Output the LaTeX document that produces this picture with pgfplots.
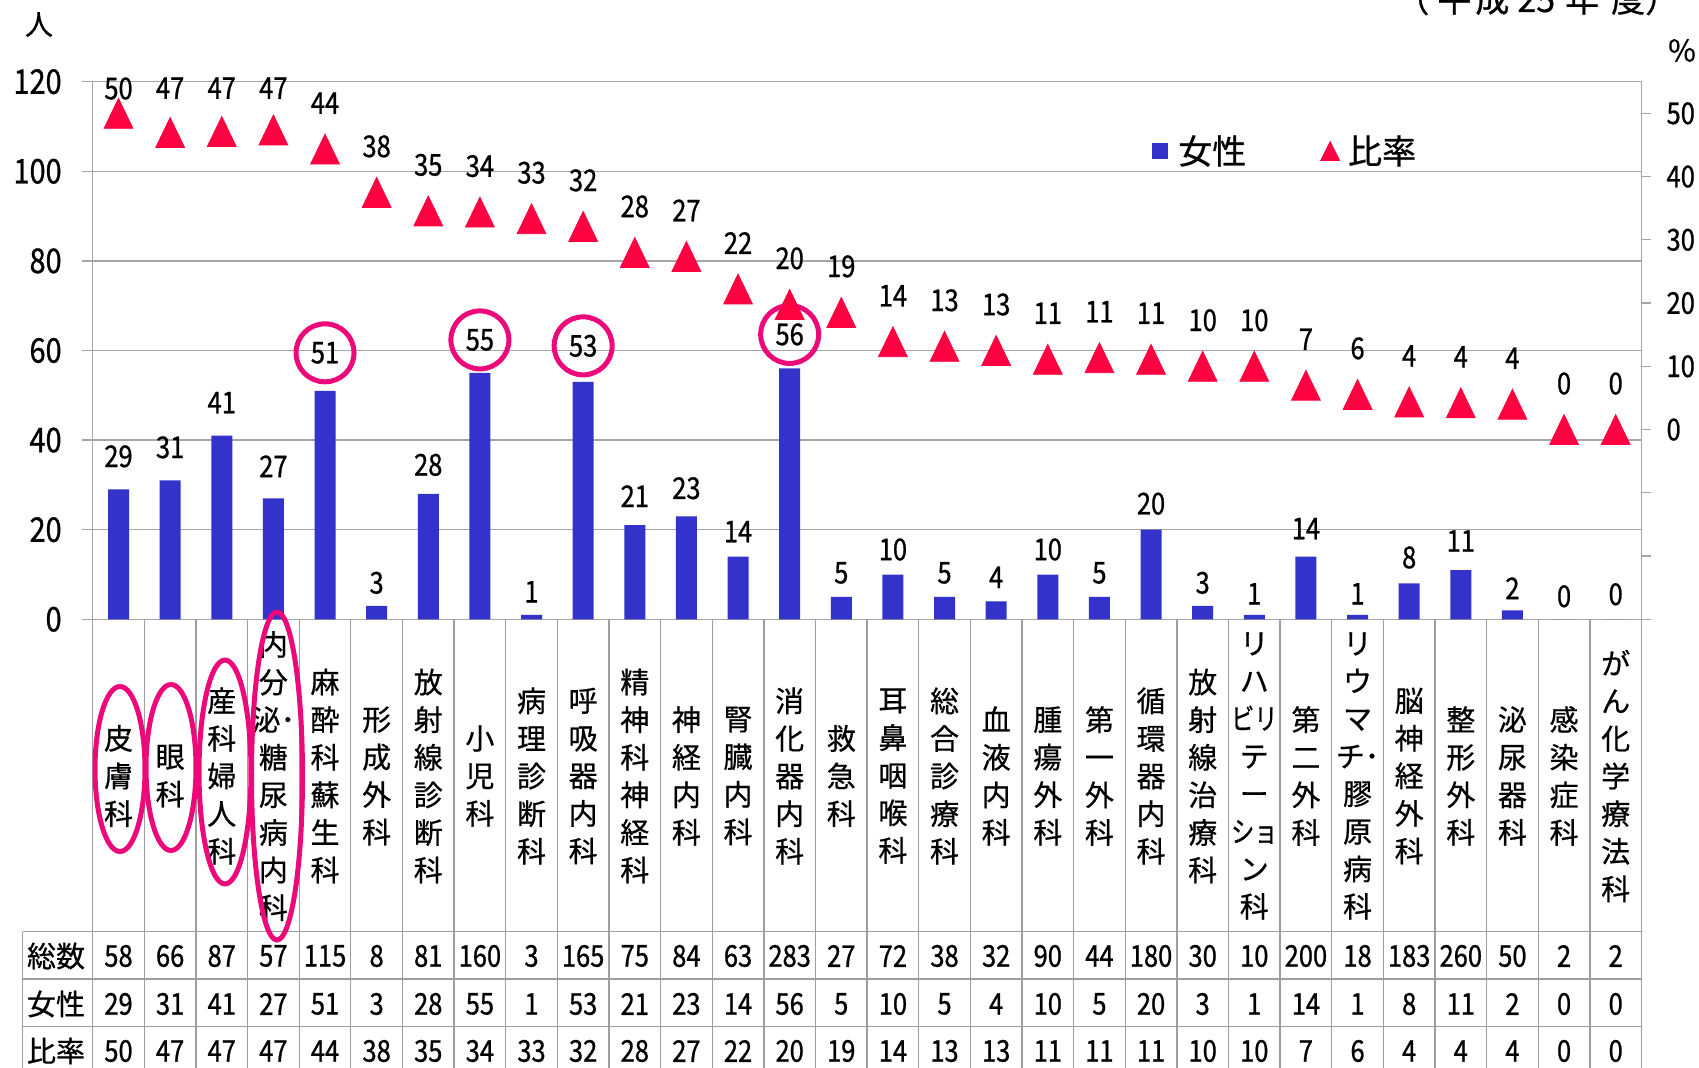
\documentclass[border=0pt]{standalone}
\usepackage{fontspec}
\usepackage{graphicx}
\usepackage{pgfplots}
\usepackage{pgfplotstable}
\pgfplotsset{compat=1.18}
\setmainfont{Noto Sans CJK JP}[FakeBold=0.6]
\newfontfamily\numfont{Noto Sans CJK JP}[FakeStretch=0.85, FakeBold=0.8]

\definecolor{barblue}{RGB}{51,51,204}
\definecolor{trired}{RGB}{255,0,64}
\definecolor{hl}{RGB}{236,10,122}

\newcommand\sq[1]{\scalebox{0.8}[1]{#1}}

% x: category, total / female count, ratio (%), rounded label,
% roff / boff: label centre above the point (pt)
\pgfplotstableread{
x total female ratio rlab roff boff
0  58  29 50.00 50 14.9 16.5
1  66  31 46.97 47 24.7 16.5
2  87  41 47.13 47 24.2 16.5
3  57  27 47.37 47 23.4 16
4  115 51 44.35 44 25.5 19
5  8   3  37.50 38 25.5 11.5
6  81  28 34.57 35 25.5 14.5
7  160 55 34.38 34 25.5 16.5
8  3   1  33.33 33 25.5 11.5
9  165 53 32.12 32 25.5 18
10 75  21 28.00 28 25.5 14.5
11 84  23 27.38 27 25.5 14
12 63  14 22.22 22 25.5 12.5
13 283 56 19.79 20 25.5 17
14 27  5  18.52 19 25.5 12
15 72  10 13.89 14 25.5 12.5
16 38  5  13.16 13 25.5 12
17 32  4  12.50 13 25.5 12
18 90  10 11.11 11 25.5 12.5
19 44  5  11.36 11 25.5 12
20 180 20 11.11 11 25.5 13
21 30  3  10.00 10 25.5 11.5
22 10  1  10.00 10 25.5 10.5
23 200 14 7.00  7  25.5 14
24 18  1  5.56  6  25.5 10.5
25 183 8  4.37  4  25.5 13
26 260 11 4.23  4  25.5 14.5
27 50  2  4.00  4  25.5 11
28 2   0  0.00  0  25.5 11.5
29 2   0  0.00  0  25.5 12.5
}\data

% circled labels
\pgfplotstableread{
x female boff
4  51 19
7  55 16.5
9  53 18
13 56 17
}\hldata

\begin{document}
\begin{tikzpicture}
\begin{axis}[
    at={(46.35pt,-309.65pt)}, anchor=south west,
    width=774.4pt, height=268.8pt, scale only axis,
    xmin=-0.5, xmax=29.5, ymin=0, ymax=120,
    clip=false,
    axis line style={black!35, line width=0.65pt},
    ytick={0,20,...,120},
    ymajorgrids,
    major grid style={black!35, line width=0.65pt},
    ytick pos=left,
    tick align=outside,
    major tick length=5.5pt,
    ytick style={black!35, line width=0.65pt},
    xtick={0,...,29},
    xtick style={draw=none},
    xticklabels={
        {皮\\膚\\科},
        {眼\\科},
        {産\\科\\婦\\人\\科},
        {内\\分\\泌･\\糖\\尿\\病\\内\\科},
        {麻\\酔\\科\\蘇\\生\\科},
        {形\\成\\外\\科},
        {放\\射\\線\\診\\断\\科},
        {小\\児\\科},
        {病\\理\\診\\断\\科},
        {呼\\吸\\器\\内\\科},
        {精\\神\\科\\神\\経\\科},
        {神\\経\\内\\科},
        {腎\\臓\\内\\科},
        {消\\化\\器\\内\\科},
        {救\\急\\科},
        {耳\\鼻\\咽\\喉\\科},
        {総\\合\\診\\療\\科},
        {血\\液\\内\\科},
        {腫\\瘍\\外\\科},
        {第\\一\\外\\科},
        {循\\環\\器\\内\\科},
        {放\\射\\線\\治\\療\\科},
        {リ\\ハ\\\sq{ビリ}\\テ\\ー\\\sq{ショ}\\ン\\科},
        {第\\二\\外\\科},
        {リ\\ウ\\マ\\チ･\\膠\\原\\病\\科},
        {脳\\神\\経\\外\\科},
        {整\\形\\外\\科},
        {泌\\尿\\器\\科},
        {感\\染\\症\\科},
        {が\\ん\\化\\学\\療\\法\\科}},
    x tick label style={anchor=center, align=center, yshift=-72.85pt,
        inner sep=0pt, font=\fontsize{14.5}{18.8}\selectfont},
    y tick label style={xshift=-6.5pt, font=\numfont\fontsize{17}{17}\selectfont},
    /pgf/number format/assume math mode=true,
]
\addplot[ybar, bar width=10.5pt, fill=barblue, draw=none,
    nodes near coords,
    visualization depends on={\thisrow{boff}\as\boff},
    every node near coord/.append style={anchor=center, yshift=\boff pt,
        inner sep=0pt, text=black, font=\numfont\fontsize{15}{15}\selectfont}]
    table[x=x, y=female] {\data};

\addplot[draw=none, mark=none, nodes near coords={\hbox{}},
    visualization depends on={\thisrow{boff}\as\boff},
    every node near coord/.append style={circle, draw=hl, line width=2.5pt,
        minimum size=29pt, inner sep=0pt, anchor=center, yshift=\boff pt}]
    table[x=x, y=female] {\hldata};

% table rows under the categories
\addplot[draw=none, mark=none, nodes near coords, point meta=explicit symbolic,
    every node near coord/.append style={anchor=center, yshift=-168.35pt,
        inner sep=0pt, text=black, font=\numfont\fontsize{15}{15}\selectfont}]
    table[x=x, y expr=0, meta=total] {\data};
\addplot[draw=none, mark=none, nodes near coords, point meta=explicit symbolic,
    every node near coord/.append style={anchor=center, yshift=-192.35pt,
        inner sep=0pt, text=black, font=\numfont\fontsize{15}{15}\selectfont}]
    table[x=x, y expr=0, meta=female] {\data};
\addplot[draw=none, mark=none, nodes near coords, point meta=explicit symbolic,
    every node near coord/.append style={anchor=center, yshift=-215.85pt,
        inner sep=0pt, text=black, font=\numfont\fontsize{15}{15}\selectfont}]
    table[x=x, y expr=0, meta=rlab] {\data};
\end{axis}

\begin{axis}[
    at={(46.35pt,-309.65pt)}, anchor=south west,
    width=774.4pt, height=268.8pt, scale only axis,
    xmin=-0.5, xmax=29.5, ymin=-30, ymax=55,
    clip=false,
    axis x line=none,
    axis y line*=right,
    axis line style={black!35, line width=0.65pt},
    ytick={-30,-20,...,50},
    yticklabels={{},{},{},0,10,20,30,40,50},
    tick align=outside,
    major tick length=4.5pt,
    ytick style={black!35, line width=0.65pt},
    y tick label style={anchor=west, xshift=4.5pt, font=\numfont\fontsize{15}{15}\selectfont},
    /pgf/number format/assume math mode=true,
    legend columns=2,
    legend style={draw=none, fill=none, at={(0.684,0.871)}, anchor=west,
        inner sep=0pt, font=\fontsize{17}{17}\selectfont,
        /tikz/every even column/.append style={column sep=35pt}},
]
\addlegendimage{legend image code/.code={
    \fill[barblue] (0pt,-3.75pt) rectangle (7.5pt,3.75pt);
    \path (10.5pt,0pt);}}
\addlegendentry{女性}
\addplot[only marks, mark=triangle*, mark size=8.3pt, color=trired,
    mark options={draw=none, fill=trired, yshift=-2.5pt, yscale=1.2},
    nodes near coords, point meta=explicit symbolic,
    visualization depends on={\thisrow{roff}\as\roff},
    every node near coord/.append style={anchor=center, yshift=\roff pt,
        inner sep=0pt, text=black, font=\numfont\fontsize{15}{15}\selectfont},
    legend image code/.code={
        \fill[trired] (0pt,-4.75pt) -- (9.5pt,-4.75pt) -- (4.75pt,4.75pt) -- cycle;
        \path (11.5pt,0pt);}]
    table[x=x, y=ratio, meta=rlab] {\data};
\addlegendentry{比率}
\end{axis}

\begin{scope}[x=0.5pt, y=-0.5pt]
    % table grid
    \foreach \k in {0,...,30}
        \draw[black!38, line width=0.65pt] ({92.7+51.627*\k},619.3) -- ({92.7+51.627*\k},1068);
    \foreach \yy in {931.7,979,1026.3}
        \draw[black!38, line width=0.65pt] (22.7,\yy) -- (1641.5,\yy);
    \draw[black!38, line width=0.65pt] (22.7,931.7) -- (22.7,1068);
    % row headers
    \node[font=\fontsize{14.5}{14.5}\selectfont] at (56,956) {総数};
    \node[font=\fontsize{14.5}{14.5}\selectfont] at (56,1004) {女性};
    \node[font=\fontsize{14.5}{14.5}\selectfont] at (56,1051) {比率};
    % category highlights
    \draw[hl, line width=2.5pt] (120,769) ellipse [x radius=12.5pt, y radius=41.25pt];
    \draw[hl, line width=2.5pt] (171,767.5) ellipse [x radius=12.5pt, y radius=41.5pt];
    \draw[hl, line width=2.5pt] (225,772) ellipse [x radius=13pt, y radius=56pt];
    \draw[hl, line width=2.5pt] (277,776) ellipse [x radius=12.75pt, y radius=82pt];
    % unit labels and note
    \node[font=\fontsize{14}{14}\selectfont] at (39,24.5) {人};
    \node[font=\fontsize{15}{15}\selectfont] at (1682,50.5) {\%};
    \node[anchor=base west, inner sep=0pt, font=\fontsize{17}{17}\selectfont]
        at (1395,12) {（\hspace{4pt}平\hspace{2pt}成\hspace{4pt}25\hspace{5pt}年\hspace{6pt}度）};
\end{scope}

\pgfresetboundingbox
\path (0pt,0pt) rectangle (849.5pt,-534pt);
\end{tikzpicture}
\end{document}
